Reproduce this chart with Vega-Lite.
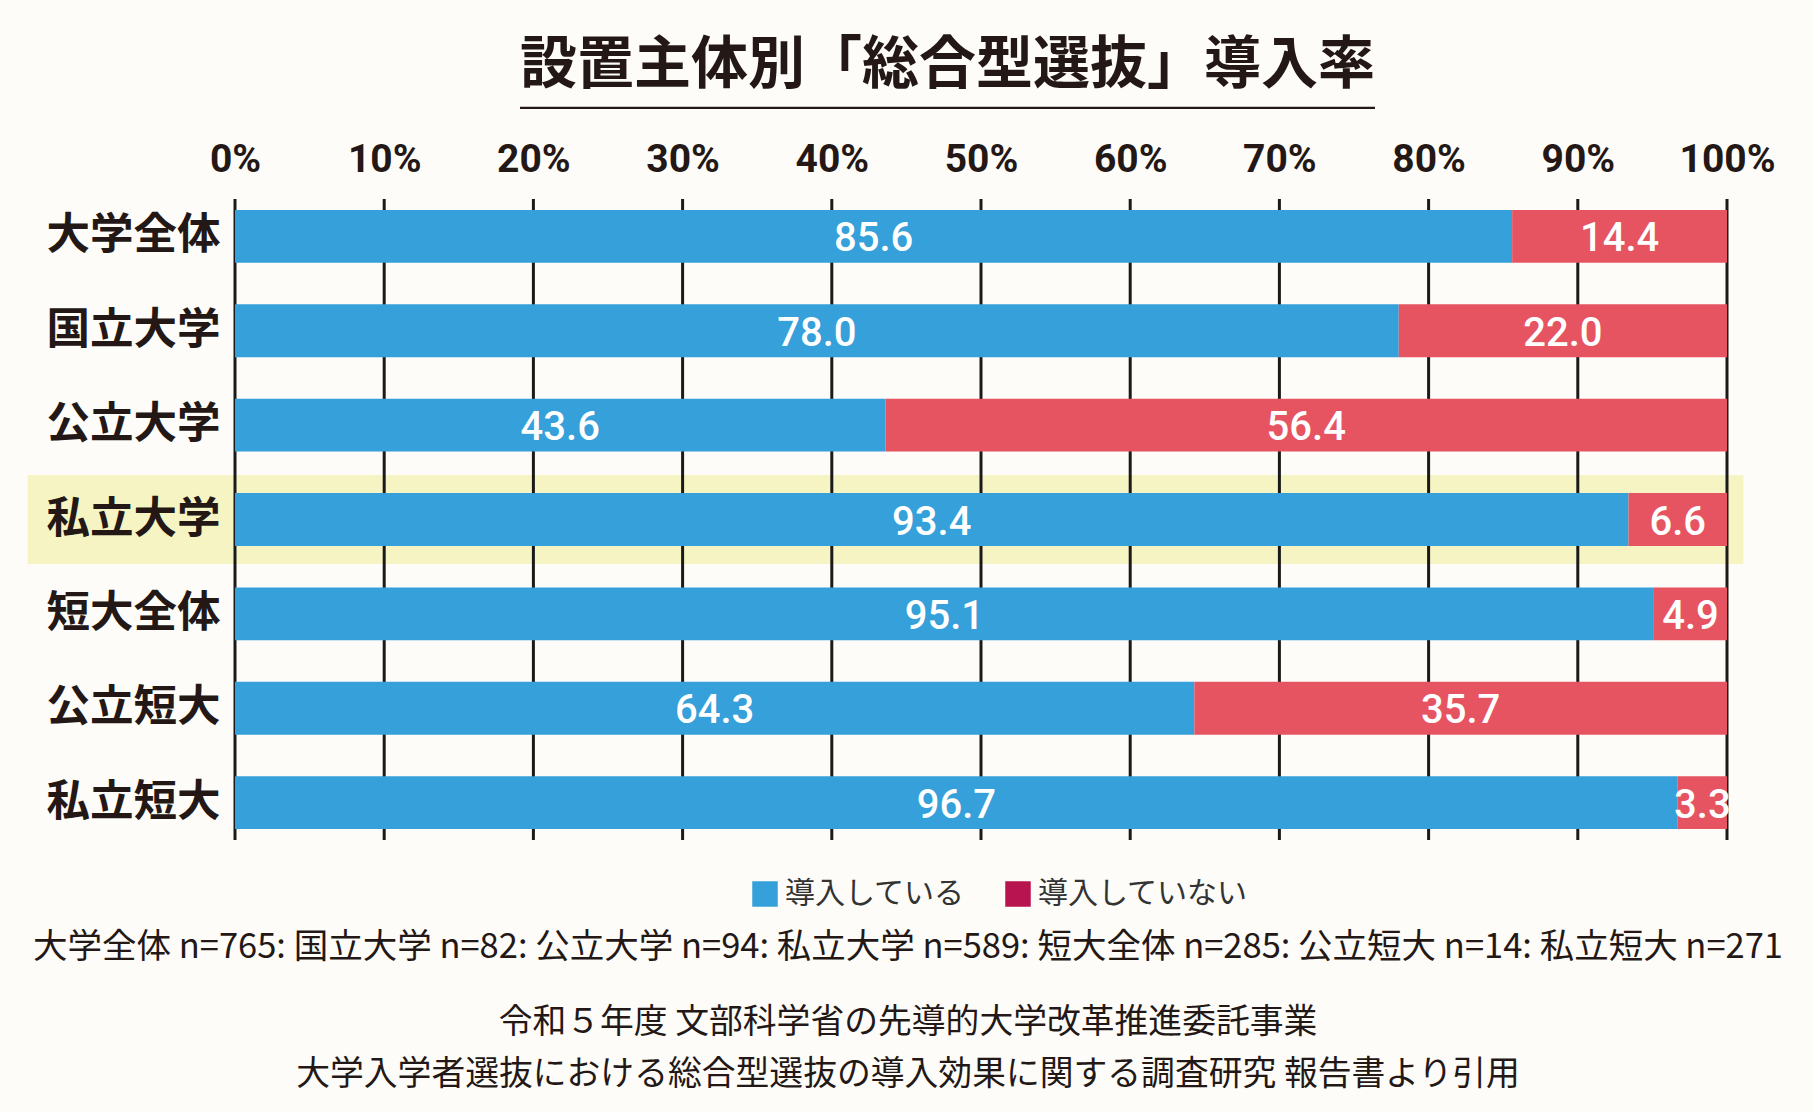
{
  "$schema": "https://vega.github.io/schema/vega-lite/v6.json",
  "width": 1492,
  "height": 641,
  "autosize": {"type": "none"},
  "padding": {"left": 235, "top": 199, "right": 87, "bottom": 272},
  "background": "#fdfcf8",
  "title": {
    "text": "大学全体 n=765: 国立大学 n=82: 公立大学 n=94: 私立大学 n=589: 短大全体 n=285: 公立短大 n=14: 私立短大 n=271",
    "subtitle": ["令和５年度 文部科学省の先導的大学改革推進委託事業　", "大学入学者選抜における総合型選抜の導入効果に関する調査研究 報告書より引用　"],
    "orient": "bottom",
    "anchor": "middle",
    "frame": "group",
    "dx": -73,
    "offset": 22,
    "font": "Noto Sans CJK JP",
    "fontSize": 34.5,
    "fontWeight": "normal",
    "color": "#231815",
    "subtitleFont": "Noto Sans CJK JP",
    "subtitleFontSize": 33.8,
    "subtitleColor": "#231815",
    "subtitlePadding": 40,
    "subtitleLineHeight": 52
  },
  "config": {
    "view": {"stroke": null},
    "axis": {"grid": false, "domain": false, "ticks": false},
    "legend": {
      "orient": "none",
      "legendX": 515,
      "legendY": 680,
      "direction": "horizontal",
      "symbolType": "square",
      "symbolSize": 650,
      "symbolStrokeWidth": 0,
      "labelFont": "Noto Sans CJK JP",
      "labelFontSize": 30,
      "labelColor": "#333333",
      "labelLimit": 0,
      "labelOffset": 5,
      "columnPadding": 38,
      "title": null
    }
  },
  "datasets": {
    "main": [
      {"cat": "大学全体", "series": "導入している", "ord": 1, "value": 85.6},
      {"cat": "大学全体", "series": "導入していない", "ord": 2, "value": 14.4},
      {"cat": "国立大学", "series": "導入している", "ord": 1, "value": 78.0},
      {"cat": "国立大学", "series": "導入していない", "ord": 2, "value": 22.0},
      {"cat": "公立大学", "series": "導入している", "ord": 1, "value": 43.6},
      {"cat": "公立大学", "series": "導入していない", "ord": 2, "value": 56.4},
      {"cat": "私立大学", "series": "導入している", "ord": 1, "value": 93.4},
      {"cat": "私立大学", "series": "導入していない", "ord": 2, "value": 6.6},
      {"cat": "短大全体", "series": "導入している", "ord": 1, "value": 95.1},
      {"cat": "短大全体", "series": "導入していない", "ord": 2, "value": 4.9},
      {"cat": "公立短大", "series": "導入している", "ord": 1, "value": 64.3},
      {"cat": "公立短大", "series": "導入していない", "ord": 2, "value": 35.7},
      {"cat": "私立短大", "series": "導入している", "ord": 1, "value": 96.7},
      {"cat": "私立短大", "series": "導入していない", "ord": 2, "value": 3.3}
    ],
    "grid": [
      {"g": 0}, {"g": 10}, {"g": 20}, {"g": 30}, {"g": 40}, {"g": 50},
      {"g": 60}, {"g": 70}, {"g": 80}, {"g": 90}, {"g": 100}
    ],
    "highlight": [
      {"cat": "私立大学", "hx": -13.9, "hx2": 101.1}
    ]
  },
  "layer": [
    {
      "data": {"name": "highlight"},
      "mark": {"type": "bar", "color": "#f6f4c2", "height": {"band": 1.68}},
      "encoding": {
        "y": {
          "field": "cat", "type": "nominal",
          "sort": ["大学全体", "国立大学", "公立大学", "私立大学", "短大全体", "公立短大", "私立短大"],
          "scale": {"domain": ["大学全体", "国立大学", "公立大学", "私立大学", "短大全体", "公立短大", "私立短大"], "paddingInner": 0.44, "paddingOuter": 0.116},
          "axis": {
            "title": null,
            "orient": "left",
            "labelFont": "Noto Sans CJK JP",
            "labelFontWeight": "bold",
            "labelFontSize": 43.5,
            "labelColor": "#231815",
            "labelPadding": 15,
            "zindex": 1
          }
        },
        "x": {
          "field": "hx", "type": "quantitative",
          "scale": {"domain": [0, 100], "nice": false, "zero": true},
          "axis": {
            "orient": "top",
            "values": [0, 10, 20, 30, 40, 50, 60, 70, 80, 90, 100],
            "labelExpr": "datum.value + '%'",
            "labelFont": "Roboto",
            "labelFontWeight": "bold",
            "labelFontSize": 39,
            "labelColor": "#231815",
            "labelPadding": 20,
            "labelFlush": false,
            "labelOverlap": false,
            "title": ["設置主体別「総合型選抜」導入率", "───────────────"],
            "titleFont": "Noto Sans CJK JP",
            "titleFontSize": 57,
            "titleFontWeight": "bold",
            "titleColor": "#231815",
            "titlePadding": 0,
            "titleLineHeight": 46,
            "titleX": 712
          }
        },
        "x2": {"field": "hx2"}
      }
    },
    {
      "data": {"name": "grid"},
      "mark": {"type": "rule", "color": "#1a1a1a", "strokeWidth": 3},
      "encoding": {
        "x": {"field": "g", "type": "quantitative"}
      }
    },
    {
      "data": {"name": "main"},
      "transform": [
        {"stack": "value", "groupby": ["cat"], "sort": [{"field": "ord"}], "as": ["v0", "v1"]}
      ],
      "mark": {"type": "bar"},
      "encoding": {
        "y": {"field": "cat", "type": "nominal", "sort": ["大学全体", "国立大学", "公立大学", "私立大学", "短大全体", "公立短大", "私立短大"]},
        "x": {"field": "v0", "type": "quantitative"},
        "x2": {"field": "v1"},
        "color": {
          "field": "series", "type": "nominal",
          "scale": {"domain": ["導入している", "導入していない"], "range": ["#35a0d9", "#e65462"]},
          "legend": null
        }
      }
    },
    {
      "data": {"name": "main"},
      "transform": [
        {"stack": "value", "groupby": ["cat"], "sort": [{"field": "ord"}], "as": ["v0", "v1"]},
        {"calculate": "(datum.v0 + datum.v1) / 2", "as": "mid"}
      ],
      "mark": {"type": "text", "color": "white", "font": "Roboto", "fontWeight": 500, "fontSize": 40, "baseline": "middle", "align": "center", "dy": 3},
      "encoding": {
        "y": {"field": "cat", "type": "nominal", "sort": ["大学全体", "国立大学", "公立大学", "私立大学", "短大全体", "公立短大", "私立短大"]},
        "x": {"field": "mid", "type": "quantitative"},
        "text": {"field": "value", "type": "quantitative", "format": ".1f"}
      }
    },
    {
      "data": {"name": "main"},
      "mark": {"type": "text"},
      "encoding": {
        "text": {"value": ""},
        "color": {
          "field": "series", "type": "nominal",
          "scale": {"domain": ["導入している", "導入していない"], "range": ["#35a0d9", "#b8144f"]}
        }
      }
    }
  ],
  "resolve": {"scale": {"color": "independent"}}
}
